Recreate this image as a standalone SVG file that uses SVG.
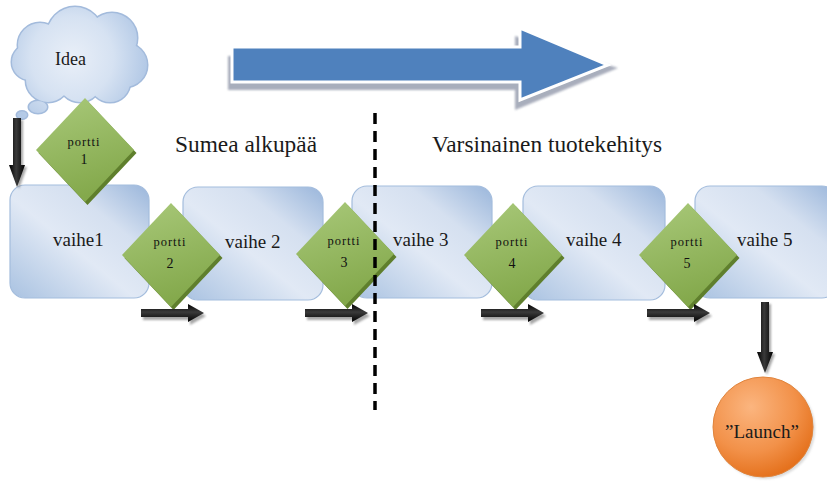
<svg xmlns="http://www.w3.org/2000/svg" xmlns:xlink="http://www.w3.org/1999/xlink" width="827" height="481" viewBox="0 0 827 481">
  <style>
    .serif { font-family: "Liberation Serif", "Times New Roman", serif; fill: #1a1a1a; }
    .stage { fill: url(#stageFill); stroke: #a4bddd; stroke-width: 1.2; }
    .stageLabel { font-size: 19px; }
    .gateLabel { font-size: 12.5px; letter-spacing: 1px; text-anchor: middle; fill: #111; }
    .gateNum { font-size: 14px; text-anchor: middle; fill: #111; }
    .heading { font-size: 23px; }
    .arrowH { fill: url(#arrowFillH); }
    .arrowV { fill: url(#arrowFillV); }
    .arrowShadow { fill: #6a6a6a; opacity: 0.6; filter: url(#soft); }
    .cloudEdge { fill: none; stroke: #a3bbdc; stroke-width: 3; }
    .cloudBody { fill: url(#cloudFill); }
  </style>
  <defs>
    <linearGradient id="stageFill" x1="0" y1="1" x2="1" y2="0">
      <stop offset="0" stop-color="#a9c2e1"/>
      <stop offset="0.45" stop-color="#e1e9f5"/>
      <stop offset="0.7" stop-color="#d5e0f0"/>
      <stop offset="1" stop-color="#9ab6db"/>
    </linearGradient>
    <radialGradient id="cloudFill" gradientUnits="userSpaceOnUse" cx="72" cy="58" r="75">
      <stop offset="0" stop-color="#e9eff8"/>
      <stop offset="0.55" stop-color="#d6e2f2"/>
      <stop offset="1" stop-color="#b3c9e6"/>
    </radialGradient>
    <linearGradient id="gateFill" x1="0" y1="0" x2="0.3" y2="1">
      <stop offset="0" stop-color="#a9c97a"/>
      <stop offset="1" stop-color="#84a94c"/>
    </linearGradient>
    <radialGradient id="launchFill" cx="0.38" cy="0.3" r="0.75">
      <stop offset="0" stop-color="#fbb57f"/>
      <stop offset="0.6" stop-color="#f29149"/>
      <stop offset="1" stop-color="#e36d17"/>
    </radialGradient>
    <linearGradient id="arrowFillH" x1="0" y1="0" x2="0" y2="1">
      <stop offset="0" stop-color="#000000"/>
      <stop offset="0.45" stop-color="#3a3a3a"/>
      <stop offset="1" stop-color="#000000"/>
    </linearGradient>
    <linearGradient id="arrowFillV" x1="0" y1="0" x2="1" y2="0">
      <stop offset="0" stop-color="#000000"/>
      <stop offset="0.45" stop-color="#3a3a3a"/>
      <stop offset="1" stop-color="#000000"/>
    </linearGradient>
    <filter id="soft" x="-20%" y="-20%" width="140%" height="140%">
      <feGaussianBlur stdDeviation="1.2"/>
    </filter>
    <!-- gate diamond centred on the origin, with a darker bevel to the lower right -->
    <g id="gate">
      <polygon points="0,-52 49,0 0,52 -49,0" transform="translate(2.5,3)" fill="#5f7f2d"/>
      <polygon points="0,-52 49,0 0,52 -49,0" fill="url(#gateFill)"/>
    </g>
    <!-- short horizontal arrow starting at the origin -->
    <g id="rightArrow">
      <path class="arrowShadow" transform="translate(2,3)" d="M0,-4 H47 V-9 L63,0 L47,9 V4 H0 Z"/>
      <path class="arrowH" d="M0,-4 H47 V-9 L63,0 L47,9 V4 H0 Z"/>
    </g>
    <!-- cloud outline built from overlapping lobes -->
    <g id="cloudShape">
      <circle cx="40" cy="45" r="22"/>
      <circle cx="75" cy="35" r="28"/>
      <circle cx="112" cy="38" r="25"/>
      <circle cx="125" cy="65" r="22"/>
      <circle cx="110" cy="82" r="20"/>
      <circle cx="80" cy="80" r="22"/>
      <circle cx="48" cy="80" r="22"/>
      <circle cx="30" cy="62" r="18"/>
      <circle cx="75" cy="60" r="30"/>
      <ellipse cx="38" cy="107" rx="9" ry="6"/>
      <ellipse cx="22" cy="115" rx="5" ry="3.5"/>
    </g>
  </defs>

  <rect width="827" height="481" fill="#ffffff"/>

  <!-- direction arrow -->
  <g id="direction">
    <polygon points="228,56 515,56 515,36 618,68 515,110 515,90 228,90" fill="#8c93a6" opacity="0.75" filter="url(#soft)"/>
    <polygon points="232,47 520,47 520,28 608,65 520,100 520,82 232,82" fill="#4f81bd" stroke="#ffffff" stroke-width="3" stroke-linejoin="miter"/>
  </g>

  <!-- stages -->
  <g id="vaihe1">
    <rect class="stage" x="10" y="185" width="139" height="113" rx="15"/>
    <text class="serif stageLabel" x="53" y="246">vaihe1</text>
  </g>
  <g id="vaihe2">
    <rect class="stage" x="183" y="187" width="140" height="113" rx="15"/>
    <text class="serif stageLabel" x="225" y="248">vaihe 2</text>
  </g>
  <g id="vaihe3">
    <rect class="stage" x="352" y="186" width="140" height="112" rx="15"/>
    <text class="serif stageLabel" x="393" y="246">vaihe 3</text>
  </g>
  <g id="vaihe4">
    <rect class="stage" x="523" y="186" width="142" height="114" rx="15"/>
    <text class="serif stageLabel" x="566" y="246">vaihe 4</text>
  </g>
  <g id="vaihe5">
    <rect class="stage" x="695" y="186" width="142" height="112" rx="15"/>
    <text class="serif stageLabel" x="737" y="246">vaihe 5</text>
  </g>

  <!-- idea cloud -->
  <g id="idea">
    <use xlink:href="#cloudShape" class="cloudEdge"/>
    <use xlink:href="#cloudShape" class="cloudBody"/>
    <text class="serif" x="55" y="65" font-size="18">Idea</text>
  </g>

  <!-- gates -->
  <g id="portti1">
    <use xlink:href="#gate" transform="translate(85,150)"/>
    <text class="serif gateLabel" x="84" y="146">portti</text>
    <text class="serif gateNum" x="84" y="164">1</text>
  </g>
  <g id="portti2">
    <use xlink:href="#gate" transform="translate(171,255)"/>
    <text class="serif gateLabel" x="170" y="246">portti</text>
    <text class="serif gateNum" x="170" y="268">2</text>
  </g>
  <g id="portti3">
    <use xlink:href="#gate" transform="translate(345,254)"/>
    <text class="serif gateLabel" x="344" y="245">portti</text>
    <text class="serif gateNum" x="344" y="267">3</text>
  </g>
  <g id="portti4">
    <use xlink:href="#gate" transform="translate(513,255)"/>
    <text class="serif gateLabel" x="512" y="246">portti</text>
    <text class="serif gateNum" x="512" y="268">4</text>
  </g>
  <g id="portti5">
    <use xlink:href="#gate" transform="translate(688,255)"/>
    <text class="serif gateLabel" x="687" y="246">portti</text>
    <text class="serif gateNum" x="687" y="268">5</text>
  </g>

  <!-- launch -->
  <g id="launch">
    <circle cx="765" cy="429" r="50" fill="#b8b8b8" opacity="0.5" filter="url(#soft)"/>
    <circle cx="763" cy="427" r="50" fill="url(#launchFill)" stroke="#e0843c" stroke-width="1"/>
    <text class="serif" x="725" y="438" font-size="19">”Launch”</text>
  </g>

  <!-- phase headings -->
  <g id="headings">
    <text class="serif heading" x="175" y="152" textLength="142" lengthAdjust="spacingAndGlyphs">Sumea alkupää</text>
    <text class="serif heading" x="432" y="152" textLength="230" lengthAdjust="spacingAndGlyphs">Varsinainen tuotekehitys</text>
  </g>

  <!-- connectors -->
  <g id="connectors">
    <path class="arrowShadow" transform="translate(2,2)" d="M13,118 H21 V165 H25 L17,187 L9,165 H13 Z"/>
    <path class="arrowV" d="M13,118 H21 V165 H25 L17,187 L9,165 H13 Z"/>
    <use xlink:href="#rightArrow" transform="translate(141,313)"/>
    <use xlink:href="#rightArrow" transform="translate(305,313)"/>
    <use xlink:href="#rightArrow" transform="translate(481,313)"/>
    <use xlink:href="#rightArrow" transform="translate(647,313)"/>
    <path class="arrowShadow" transform="translate(2,2)" d="M761,302 H769 V352 H773 L765,373 L757,352 H761 Z"/>
    <path class="arrowV" d="M761,302 H769 V352 H773 L765,373 L757,352 H761 Z"/>
  </g>

  <!-- boundary between the fuzzy front end and development -->
  <line x1="375" y1="113" x2="375" y2="410" stroke="#000000" stroke-width="3.5" stroke-dasharray="11 7"/>
</svg>
